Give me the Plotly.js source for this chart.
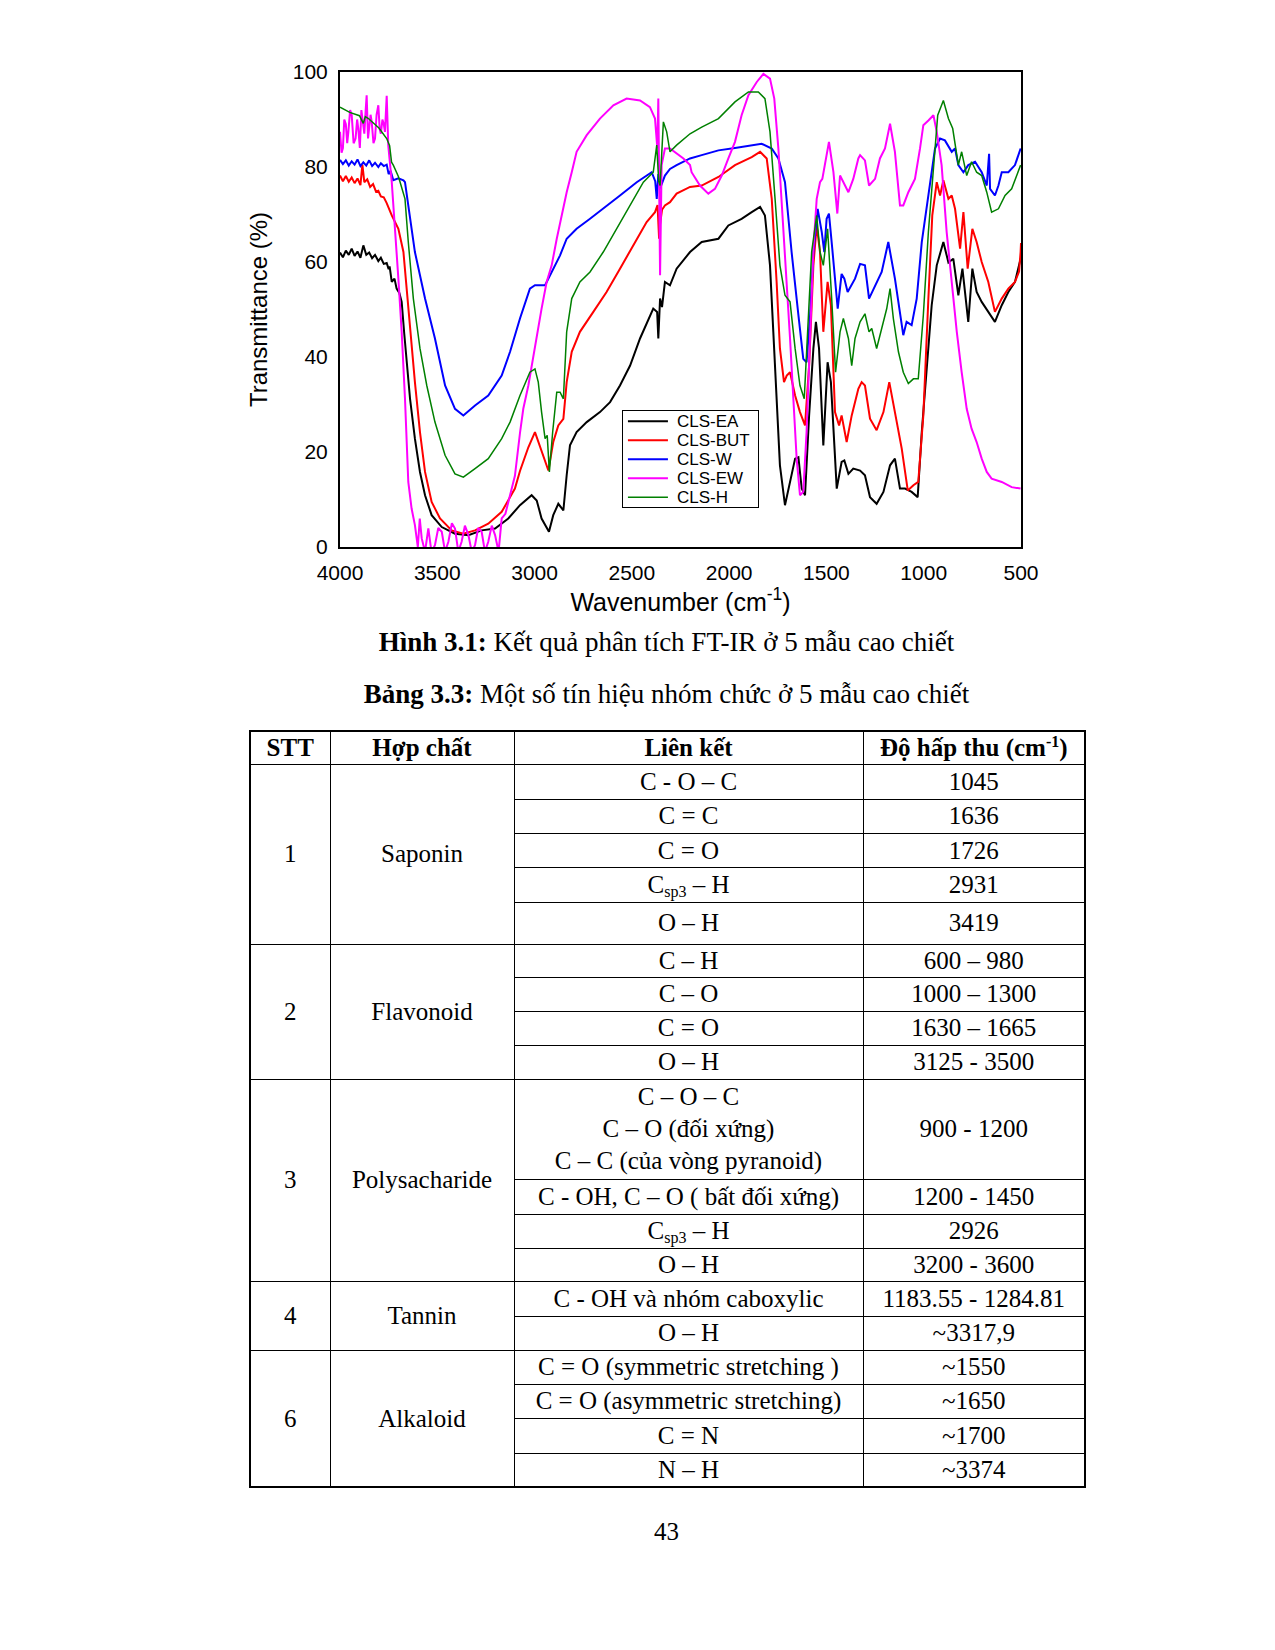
<!DOCTYPE html>
<html>
<head>
<meta charset="utf-8">
<script src="https://cdn.plot.ly/plotly-3.0.1.min.js"></script>
<style>
  html, body { margin:0; padding:0; background:#fff; }
  body { width:1275px; height:1650px; position:relative; overflow:hidden; font-family:'Liberation Serif','Times New Roman',serif; color:#000; }
  #chart { position:absolute; left:0; top:0; width:1275px; height:625px; }
  .cap { position:absolute; left:0; width:1275px; text-align:center; font-size:27px; line-height:30px; padding-left:58px; box-sizing:border-box; }
  #tbl { position:absolute; left:249px; top:730px; width:835px; border-collapse:collapse; table-layout:fixed; font-size:25px; border:2px solid #000; }
  #tbl td, #tbl th { border:1.5px solid #000; padding:0; text-align:center; vertical-align:middle; line-height:32px; }
  #tbl th { font-weight:bold; }
  #tbl sub { font-size:16px; vertical-align:-4px; line-height:0; }
  #tbl sup { font-size:16px; vertical-align:9px; line-height:0; }
  #pg { position:absolute; left:0; width:1275px; top:1517px; text-align:center; font-size:25px; line-height:30px; padding-left:58px; box-sizing:border-box; }
</style>
</head>
<body>
<div id="chart"></div>
<div class="cap" style="top:627px;"><b>Hình 3.1:</b> Kết quả phân tích FT-IR ở 5 mẫu cao chiết</div>
<div class="cap" style="top:679px;"><b>Bảng 3.3:</b> Một số tín hiệu nhóm chức ở 5 mẫu cao chiết</div>
<table id="tbl"></table>
<div id="pg">43</div>
<script>
// ---------- Chart data: [wavenumber (cm-1), transmittance (%)] ----------
const clsEA = [[4000,62],[3985,61],[3970,62.4],[3955,61.5],[3940,62.8],[3925,61.3],[3910,62.2],[3895,60.9],[3880,63.5],[3865,61.5],[3850,62.0],[3835,60.8],[3820,61.5],[3803,60.2],[3790,60.9],[3775,59.6],[3760,59.8],[3750,58.5],[3745,59.1],[3734,55.8],[3720,56.5],[3709,54.4],[3695,53.5],[3683,51.6],[3670,45],[3657,38.2],[3640,31.2],[3615,22.8],[3589,15.8],[3563,10.9],[3529,6.7],[3477,4.2],[3409,2.8],[3340,2.5],[3272,3.5],[3203,3.9],[3135,6.0],[3075,8.8],[3015,10.9],[2989,9.8],[2964,6.0],[2926,3.2],[2904,6.7],[2878,9.1],[2852,7.7],[2835,15.1],[2818,21.4],[2784,24.2],[2732,26.3],[2664,28.4],[2612,30.5],[2561,34.0],[2509,38.2],[2458,43.9],[2415,48.1],[2390,50.2],[2370,49.5],[2364,43.9],[2355,52.3],[2345,50.5],[2330,55.8],[2304,55.1],[2270,58.6],[2201,62.1],[2141,64.2],[2055,64.9],[2004,67.7],[1936,69.1],[1884,70.5],[1841,71.6],[1816,69.8],[1790,59.3],[1773,45.3],[1756,31.2],[1739,17.2],[1713,8.8],[1687,13.7],[1661,18.6],[1644,18.9],[1627,12.3],[1610,10.9],[1589,27.7],[1567,41.8],[1554,47.4],[1538,41.8],[1516,21.4],[1494,38.9],[1477,34.7],[1447,12.3],[1422,17.9],[1408,18.2],[1387,15.4],[1362,16.5],[1327,16.1],[1302,15.1],[1276,10.5],[1242,9.1],[1207,11.6],[1173,17.2],[1148,18.6],[1122,12.3],[1096,12.3],[1062,11.6],[1031,10.5],[1010,24.2],[985,38.2],[959,50.9],[933,59.3],[899,64.2],[873,59.9],[848,60.7],[822,53.0],[801,58.6],[771,47.4],[750,58.6],[728,53.7],[702,51.6],[668,49.5],[634,47.4],[599,50.9],[565,53.7],[531,55.8],[502,60.7]];

const clsBUT = [[4000,78.2],[3985,77.0],[3970,78.1],[3955,76.9],[3940,77.8],[3925,76.6],[3910,77.6],[3895,76.2],[3885,80.5],[3875,76.8],[3860,77.4],[3845,75.8],[3830,76.4],[3815,74.8],[3803,75.0],[3790,73.8],[3775,73.6],[3760,72.4],[3734,69.8],[3700,67.0],[3674,62.1],[3657,53.7],[3640,45.3],[3615,34.7],[3589,24.2],[3563,15.8],[3529,9.5],[3486,6.0],[3426,3.5],[3366,2.8],[3306,3.5],[3238,4.9],[3169,7.4],[3101,12.3],[3075,16],[3032,21],[2998,24.2],[2964,20.0],[2929,16.1],[2904,22.1],[2878,25.6],[2852,27.0],[2835,34.7],[2809,41.1],[2767,45.3],[2698,49.5],[2630,53.7],[2561,58.6],[2492,63.5],[2424,68.4],[2381,70.5],[2368,72],[2360,64.9],[2355,68],[2345,71],[2330,71.9],[2304,72.6],[2270,74.4],[2201,75.8],[2141,76.1],[2055,77.9],[1970,80.4],[1884,82.1],[1841,83.2],[1807,81.8],[1781,73.3],[1756,55.8],[1739,41.8],[1718,34.7],[1704,36.1],[1687,36.8],[1661,31.9],[1636,28.4],[1610,25.6],[1589,38.2],[1567,59.3],[1550,67.7],[1533,62.1],[1516,45.3],[1494,55.8],[1477,50.9],[1456,28.4],[1435,25.6],[1422,27.7],[1396,22.1],[1370,27.7],[1336,33.3],[1319,34.7],[1302,34.0],[1276,27.0],[1242,24.6],[1207,28.4],[1177,34.7],[1148,28.4],[1113,20.7],[1082,11.9],[1053,13.0],[1028,13.7],[1002,27.7],[976,52.3],[956,69.8],[933,76.8],[916,74.0],[899,77.2],[873,73.3],[856,74.0],[839,71.2],[813,62.8],[796,70.5],[774,58.6],[750,67.0],[728,64.2],[702,60.0],[668,55.8],[634,49.5],[599,52.3],[565,54.4],[531,55.8],[510,58],[502,62.1],[500,64]];

const clsW = [[4000,81.5],[3985,80.6],[3970,81.4],[3955,80.3],[3940,81.2],[3925,80.5],[3910,81.6],[3895,80.2],[3880,81.0],[3865,80.3],[3850,81.4],[3835,80.2],[3820,80.9],[3803,80.0],[3790,80.8],[3775,80.2],[3760,80.5],[3750,78.5],[3740,79.2],[3726,77.2],[3700,77.6],[3674,77.2],[3666,76.8],[3615,62.1],[3563,52.3],[3512,43.9],[3460,34.0],[3409,29.1],[3366,27.7],[3306,29.8],[3238,31.9],[3169,36.1],[3126,41.1],[3075,48.1],[3024,54.4],[2998,55.1],[2946,55.1],[2921,57.2],[2895,59.3],[2869,61.4],[2835,64.9],[2784,67.0],[2715,69.1],[2647,71.2],[2561,74.0],[2475,76.8],[2398,78.9],[2380,77.0],[2372,73.3],[2364,78.5],[2355,75.5],[2330,78.2],[2304,79.6],[2270,80.4],[2201,81.8],[2141,82.5],[2055,83.5],[1970,84.0],[1884,84.6],[1833,84.9],[1781,83.9],[1747,81.8],[1713,76.8],[1679,62.1],[1644,48.8],[1619,39.6],[1602,38.9],[1584,48.8],[1567,62.1],[1545,71.2],[1524,66.3],[1511,62.1],[1499,69.1],[1487,70.2],[1470,62.8],[1442,50.2],[1422,57.5],[1408,56.5],[1391,53.7],[1353,56.5],[1327,59.6],[1302,59.3],[1281,52.3],[1250,55.1],[1216,57.9],[1182,64.2],[1148,56.5],[1105,44.6],[1088,47.4],[1062,46.7],[1036,52.3],[1010,64.2],[976,74.0],[942,83.9],[916,86.0],[891,85.6],[856,83.2],[839,83.9],[822,80.4],[796,78.9],[771,80.4],[736,81.1],[702,78.9],[676,76.1],[664,82.8],[659,75.4],[634,74.0],[616,76.1],[599,78.9],[565,78.9],[531,80.4],[502,83.9]];

const clsEW = [[4000,87.4],[3992,83],[3985,84],[3978,90],[3970,89],[3963,85],[3957,87.4],[3948,92],[3940,91],[3930,85],[3920,86],[3912,90],[3906,88.1],[3898,84],[3890,92],[3882,89],[3875,87],[3868,92],[3863,95.1],[3856,86],[3850,88],[3843,91],[3837,89.5],[3828,85],[3820,86],[3812,91],[3803,93.0],[3796,88],[3790,87],[3782,90],[3775,89],[3769,87.4],[3760,95],[3752,84.6],[3734,76.8],[3717,67.7],[3700,56.5],[3683,45.3],[3666,31.2],[3649,13.7],[3632,8.1],[3615,4.6],[3600,0],[3590,6],[3580,1.8],[3563,-1],[3546,3.9],[3530,-1],[3512,0.4],[3495,4],[3477,3.2],[3460,-1],[3443,1.1],[3425,5],[3409,3.9],[3392,-1],[3375,1.1],[3358,4.5],[3340,2.5],[3323,-1],[3306,0.4],[3290,4],[3272,3.2],[3255,-1],[3238,1.1],[3220,4.5],[3203,2.5],[3185,-1],[3169,6.0],[3150,7],[3135,9.5],[3101,15],[3075,24],[3058,29.1],[3032,34.0],[3015,38.2],[2989,43.9],[2964,50.2],[2938,55.8],[2912,59.3],[2886,64.9],[2861,69.8],[2835,74.7],[2809,78.9],[2784,83.2],[2732,86.7],[2664,90.2],[2595,93.0],[2527,94.4],[2458,94.0],[2407,92.6],[2381,90.2],[2369,83.9],[2364,94.4],[2355,57.2],[2347,80.4],[2330,83.9],[2304,83.9],[2270,82.8],[2235,81.8],[2201,80.4],[2193,78.9],[2150,76.1],[2107,74.4],[2073,75.4],[2038,78.2],[2004,81.8],[1970,85.3],[1936,90.9],[1901,95.1],[1858,97.9],[1824,99.6],[1790,98.6],[1768,94.4],[1747,83.9],[1725,69.8],[1704,55.8],[1687,43.9],[1670,31.2],[1653,18.6],[1636,10.9],[1619,11.6],[1602,24.2],[1584,45.3],[1567,62.8],[1550,73.3],[1533,76.8],[1521,77.5],[1507,80.4],[1487,85.3],[1464,78.9],[1444,70.2],[1430,78.2],[1413,76.8],[1387,74.7],[1362,77.5],[1336,81.8],[1327,82.5],[1302,81.4],[1281,76.1],[1250,77.5],[1225,81.8],[1199,83.9],[1173,89.1],[1148,83.2],[1122,71.9],[1105,71.9],[1079,74.7],[1045,77.5],[1019,83.9],[1002,88.8],[976,89.8],[950,90.9],[933,87.4],[908,80.4],[882,66.3],[856,55.8],[830,45.3],[805,36.8],[779,29.1],[754,24.9],[728,22.1],[702,18.6],[676,15.8],[651,14.4],[599,13.7],[548,12.6],[502,12.3]];

const clsH = [[4000,92.6],[3950,91.5],[3900,90.8],[3880,89.2],[3870,90.6],[3854,90.2],[3800,88.2],[3760,86.0],[3745,84.5],[3735,81],[3726,80.4],[3715,79.5],[3700,78],[3691,76.8],[3666,73.3],[3649,64.2],[3623,52.3],[3589,41.8],[3554,34.0],[3512,26.3],[3460,19.3],[3409,15.4],[3366,14.7],[3306,16.5],[3238,18.6],[3169,22.8],[3126,26.3],[3075,31.9],[3024,36.8],[2998,37.5],[2981,34.7],[2964,28.4],[2946,22.8],[2935,23.5],[2924,15.8],[2907,24.2],[2886,32.6],[2869,32.6],[2852,31.2],[2835,45.3],[2809,52.3],[2767,55.8],[2715,57.9],[2647,62.1],[2578,67.0],[2509,71.9],[2441,76.8],[2390,78.9],[2372,84.6],[2362,77],[2355,76.1],[2338,89.5],[2321,87.4],[2304,83.2],[2270,84.6],[2201,87.0],[2141,88.4],[2055,90.2],[1970,93.7],[1901,95.8],[1850,95.8],[1816,94.4],[1790,87.4],[1764,73.3],[1739,59.3],[1713,53.0],[1687,51.6],[1661,41.8],[1636,34.0],[1614,31.2],[1597,45.3],[1576,62.1],[1550,69.8],[1533,62.1],[1516,59.3],[1494,67.0],[1473,52.3],[1453,36.8],[1430,45.3],[1413,48.1],[1387,43.9],[1370,38.2],[1353,43.9],[1327,47.4],[1302,49.1],[1281,45.3],[1267,46.0],[1242,41.8],[1216,46.0],[1190,50.2],[1173,54.4],[1156,48.1],[1130,41.1],[1105,36.8],[1079,34.4],[1053,35.4],[1028,35.4],[1002,48.8],[976,66.3],[950,80.4],[928,90.9],[899,94.0],[873,90.2],[851,88.1],[839,84.6],[822,80.4],[805,83.2],[779,78.2],[754,81.1],[728,78.9],[702,78.2],[676,74.7],[651,70.5],[616,71.2],[582,74.0],[548,75.4],[502,80.4]];

const seriesNames = ['CLS-EA','CLS-BUT','CLS-W','CLS-EW','CLS-H'];
const xTickVals = [4000,3500,3000,2500,2000,1500,1000,500];
const yTickVals = [0,20,40,60,80,100];

// ---------- Table data ----------
const stt = ['1','2','3','4','6'];
const compounds = ['Saponin','Flavonoid','Polysacharide','Tannin','Alkaloid'];
const groupSizes = [5,4,4,2,4];
const bonds = [
  'C - O – C','C = C','C = O','C<sub>sp3</sub> – H','O – H',
  'C – H','C – O','C = O','O – H',
  'C – O – C<br>C – O (đối xứng)<br>C – C (của vòng pyranoid)','C - OH, C – O ( bất đối xứng)','C<sub>sp3</sub> – H','O – H',
  'C - OH và nhóm caboxylic','O – H',
  'C = O (symmetric stretching )','C = O (asymmetric stretching)','C = N','N – H'
];
const absorb = [
  '1045','1636','1726','2931','3419',
  '600 – 980','1000 – 1300','1630 – 1665','3125 - 3500',
  '900 - 1200','1200 - 1450','2926','3200 - 3600',
  '1183.55 - 1284.81','~3317,9',
  '~1550','~1650','~1700','~3374'
];
const headers = ['STT','Hợp chất','Liên kết','Độ hấp thu (cm<sup>-1</sup>)'];

// ---------- Styles (layout only) ----------
const colors = ['#000000','#ff0000','#0000ff','#ff00ff','#008000'];
const widths = [2,2,2,2,1.5];
const colWidths = [80,184,349,222];
const headerHeight = 33;
const rowHeights = [34.5,34.5,34,34.5,42, 33.4,34,34,34, 100,35,34,33, 35,34, 34,34,35,34];
const legendTextSize = 17;
const legendBoxWidth = 136;

const allSeries = [clsEA, clsBUT, clsW, clsEW, clsH];
const traces = allSeries.map((s, i) => ({
  type: 'scatter', mode: 'lines', name: seriesNames[i],
  x: s.map(p => p[0]), y: s.map(p => p[1]),
  line: { color: colors[i], width: widths[i] },
  hoverinfo: 'skip'
}));

const axisFont = { family: 'Liberation Sans, Arial, sans-serif', size: 21, color: '#000' };
const layout = {
  width: 1275, height: 625,
  margin: { l: 340, r: 254, t: 72, b: 78 },
  paper_bgcolor: '#fff', plot_bgcolor: '#fff',
  showlegend: true,
  legend: {
    x: 0.414, y: 0.288, xanchor: 'left', yanchor: 'top',
    bgcolor: '#fff', bordercolor: '#000', borderwidth: 1,
    font: { family: 'Liberation Sans, Arial, sans-serif', size: 12, color: '#000' },
    tracegroupgap: 0, itemwidth: 40
  },
  xaxis: {
    range: [4000, 500], tickvals: xTickVals, ticktext: xTickVals.map(String),
    showline: true, mirror: true, linecolor: '#000', linewidth: 2,
    showgrid: false, zeroline: false, ticks: '',
    tickfont: axisFont, ticklabelstandoff: 6,
    title: { text: 'Wavenumber (cm<sup>-1</sup>)', font: { family: 'Liberation Sans, Arial, sans-serif', size: 25, color: '#000' }, standoff: 6 }
  },
  yaxis: {
    range: [0, 100], tickvals: yTickVals, ticktext: yTickVals.map(String),
    showline: true, mirror: true, linecolor: '#000', linewidth: 2,
    showgrid: false, zeroline: false, ticks: '',
    tickfont: axisFont, ticklabelstandoff: 6,
    title: { text: 'Transmittance (%)', font: { family: 'Liberation Sans, Arial, sans-serif', size: 24, color: '#000' }, standoff: 18 }
  }
};

Plotly.newPlot('chart', traces, layout, { staticPlot: true, displayModeBar: false }).then(gd => {
  // enlarge legend labels to match the reference while keeping the compact row spacing
  const lg = gd.querySelector('.legend');
  if (!lg) return;
  lg.querySelectorAll('[clip-path]').forEach(e => e.removeAttribute('clip-path'));
  lg.querySelectorAll('.legendtext').forEach(t => {
    t.style.fontSize = legendTextSize + 'px';
    t.setAttribute('y', '6');
    t.setAttribute('x', String(parseFloat(t.getAttribute('x') || '0') + 4));
  });
  const bg = lg.querySelector('rect.bg');
  if (bg) {
    bg.setAttribute('width', legendBoxWidth);
    const h = parseFloat(bg.getAttribute('height'));
    bg.setAttribute('y', '4.5');
    bg.setAttribute('height', String(h - 9));
  }
  const tr = lg.getAttribute('transform');
  const m = tr && tr.match(/translate\(([-\d.]+)[ ,]+([-\d.]+)\)/);
  if (m) lg.setAttribute('transform', 'translate(' + m[1] + ',' + (parseFloat(m[2]) - 4.5) + ')');
});

// ---------- Build table ----------
(function () {
  const tbl = document.getElementById('tbl');
  const cg = document.createElement('colgroup');
  colWidths.forEach(w => { const c = document.createElement('col'); c.style.width = w + 'px'; cg.appendChild(c); });
  tbl.appendChild(cg);
  const hr = document.createElement('tr');
  hr.style.height = headerHeight + 'px';
  headers.forEach(h => { const th = document.createElement('th'); th.innerHTML = h; hr.appendChild(th); });
  tbl.appendChild(hr);
  let k = 0;
  groupSizes.forEach((n, g) => {
    for (let j = 0; j < n; j++) {
      const tr = document.createElement('tr');
      tr.style.height = rowHeights[k] + 'px';
      if (j === 0) {
        const a = document.createElement('td'); a.rowSpan = n; a.textContent = stt[g]; tr.appendChild(a);
        const b = document.createElement('td'); b.rowSpan = n; b.textContent = compounds[g]; tr.appendChild(b);
      }
      const c = document.createElement('td'); c.innerHTML = bonds[k]; tr.appendChild(c);
      const d = document.createElement('td'); d.innerHTML = absorb[k]; tr.appendChild(d);
      tbl.appendChild(tr);
      k++;
    }
  });
})();
</script>
</body>
</html>
